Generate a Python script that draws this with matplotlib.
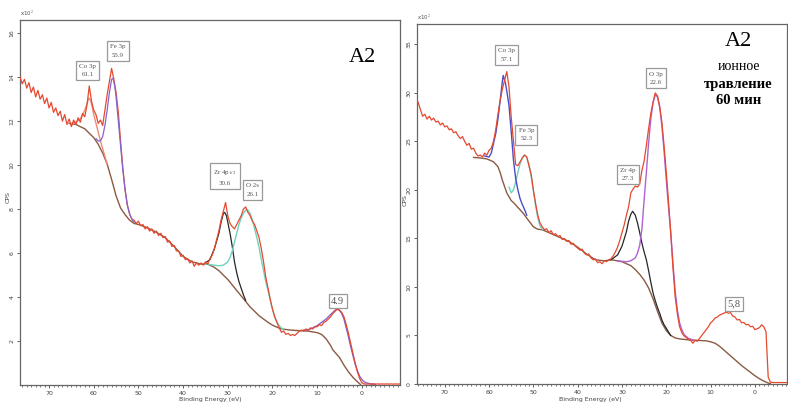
import matplotlib
matplotlib.use("Agg")
import matplotlib.pyplot as plt
import numpy as np
from matplotlib.ticker import MultipleLocator

plt.rcParams['mathtext.fontset'] = 'stix'

# ---------------------------------------------------------------------------
# Data (CPS in units of 10^2, binding energy in eV)
# ---------------------------------------------------------------------------

# left panel: raw spectrum, 0.5 eV steps from 76.5 eV down
left_raw_start = 76.5
left_raw = [
    14.0, 13.7, 13.9, 13.5, 13.75, 13.3, 13.55, 13.1, 13.4, 13.0,      # 76.5..72.0
    13.2, 12.8, 13.05, 12.6, 12.85, 12.4, 12.6, 12.25, 12.45, 12.0,    # 71.5..67.0
    12.3, 11.85, 12.1, 11.75, 12.05, 11.85, 12.15, 11.95, 12.35, 12.2, # 66.5..62.0
    12.75, 13.6, 12.9, 12.5, 12.3, 11.9, 12.05, 11.8, 12.5, 13.2,      # 61.5..57.0
    13.8, 14.4, 13.9, 13.3, 12.4, 11.1, 9.9, 8.9, 8.2, 7.8,            # 56.5..52.0
    7.55, 7.5, 7.35, 7.45, 7.25, 7.3, 7.1, 7.2, 7.0, 7.1,              # 51.5..47.0
    6.9, 7.0, 6.8, 6.9, 6.7, 6.75, 6.5, 6.55, 6.3, 6.35,               # 46.5..42.0
    6.1, 6.1, 5.85, 5.9, 5.7, 5.75, 5.55, 5.65, 5.4, 5.55,             # 41.5..37.0
    5.45, 5.55, 5.45, 5.6, 5.5, 5.75, 5.9, 6.2, 6.6, 7.0,              # 36.5..32.0
    7.5, 7.9, 8.3, 7.7, 7.35, 7.2, 7.1, 7.3, 7.5, 7.7,                 # 31.5..27.0
    8.0, 8.1, 7.85, 7.7, 7.45, 7.3, 7.0, 6.7, 6.2, 5.6,                # 26.5..22.0
    4.9, 4.4, 3.9, 3.45, 3.1, 2.85, 2.6, 2.4, 2.45, 2.3,               # 21.5..17.0
    2.35, 2.25, 2.3, 2.25, 2.35, 2.45, 2.5, 2.45, 2.55, 2.5,           # 16.5..12.0
    2.6, 2.55, 2.65, 2.65, 2.75, 2.7, 2.85, 2.9, 3.0, 3.1,             # 11.5..7.0
    3.25, 3.35, 3.45, 3.4, 3.3, 3.1, 2.75, 2.35, 1.9, 1.45,            # 6.5..2.0
    1.0, 0.6, 0.3, 0.1, 0.05, 0.04, 0.05, 0.04, 0.05, 0.04,            # 1.5..-3.0
    0.05, 0.04, 0.05, 0.04, 0.05, 0.04, 0.05, 0.04, 0.05, 0.04,        # -3.5..-8.0
    0.05,
]

left_bg_e = [65.5, 64, 63, 62, 61, 60, 59, 58, 57, 56, 55, 54, 53, 52, 51, 50,
             48, 46, 44, 42, 40, 38, 36, 34.5, 33, 32, 31, 30, 29, 28, 27, 26,
             25, 24, 23, 22, 21, 20, 19, 18, 16, 14, 12, 10, 9, 8, 7, 6.5, 5,
             4, 3, 2, 1, 0.3]
left_bg_y = [11.9, 11.85, 11.75, 11.65, 11.45, 11.25, 10.95, 10.55, 10.05, 9.35,
             8.6, 8.05, 7.75, 7.5, 7.35, 7.3, 7.15, 6.95, 6.7, 6.3, 5.85, 5.6,
             5.5, 5.5, 5.35, 5.2, 5.0, 4.8, 4.55, 4.3, 4.05, 3.8, 3.55, 3.35,
             3.15, 3.0, 2.85, 2.72, 2.63, 2.55, 2.5, 2.47, 2.45, 2.38, 2.3, 2.1,
             1.8, 1.6, 1.25, 0.9, 0.6, 0.35, 0.15, 0.02]

left_co_e = [65, 64, 63, 62.5, 62, 61.5, 61.1, 60.7, 60.3, 60, 59.5, 59, 58.5,
             58, 57.5, 57]
left_co_y = [11.9, 11.95, 12.1, 12.3, 12.5, 12.8, 13.05, 12.95, 12.6, 12.3,
             11.9, 11.5, 11.1, 10.75, 10.4, 10.05]

left_fe_e = [59.5, 59, 58.5, 58, 57.5, 57, 56.5, 56, 55.7, 55.3, 55, 54.5, 54,
             53.5, 53, 52.5, 52, 51.5, 51]
left_fe_y = [11.2, 11.1, 11.1, 11.3, 11.8, 12.5, 13.3, 13.9, 13.95, 13.6, 13.1,
             12.0, 10.9, 9.8, 8.9, 8.2, 7.8, 7.55, 7.4]

left_zr_e = [35, 34, 33, 32, 31.5, 31, 30.7, 30.3, 30, 29.5, 29, 28.5, 28, 27.5,
             27, 26.5, 26]
left_zr_y = [5.55, 5.7, 6.2, 6.9, 7.4, 7.8, 7.85, 7.7, 7.4, 6.9, 6.3, 5.6, 5.1,
             4.7, 4.4, 4.1, 3.85]

left_o_e = [35, 33, 32, 31, 30, 29.5, 29, 28.5, 28, 27.5, 27, 26.5, 26, 25.5,
            25, 24.5, 24, 23.5, 23, 22.5, 22, 21.5, 21, 20.5, 20, 19.5, 19,
            18.5, 18, 17.5]
left_o_y = [5.5, 5.45, 5.42, 5.45, 5.6, 5.8, 6.1, 6.5, 6.9, 7.3, 7.6, 7.8, 7.95,
            7.95, 7.8, 7.5, 7.1, 6.7, 6.25, 5.7, 5.2, 4.7, 4.3, 3.85, 3.45, 3.1,
            2.85, 2.7, 2.6, 2.5]

left_vb_e = [13, 12, 11, 10, 9, 8, 7, 6, 5.5, 5, 4.5, 4, 3.5, 3, 2.5, 2, 1.5, 1,
             0.5, 0, -0.5, -1, -2, -3]
left_vb_y = [2.5, 2.5, 2.6, 2.7, 2.85, 3.0, 3.2, 3.4, 3.45, 3.4, 3.25, 3.0, 2.6,
             2.2, 1.75, 1.35, 0.95, 0.65, 0.4, 0.25, 0.15, 0.1, 0.05, 0.03]

# right panel: raw spectrum, 0.5 eV steps from 76.5 eV down
right_raw_start = 76.5
right_raw = [
    29.6, 29.0, 28.3, 27.6, 27.8, 27.3, 27.6, 27.2, 27.4, 27.0,   # 76.5..72.0
    27.1, 26.7, 26.9, 26.5, 26.6, 26.2, 26.3, 25.9, 26.0, 25.6,   # 71.5..67.0
    25.3, 25.5, 25.0, 24.6, 24.8, 24.2, 24.3, 23.8, 23.5, 23.6,   # 66.5..62.0
    23.4, 23.8, 23.6, 24.1, 24.3, 25.0, 26.2, 27.8, 29.2, 30.4,   # 61.5..57.0
    31.3, 32.2, 30.6, 27.5, 25.0, 22.6, 22.5, 22.9, 23.3, 23.6,   # 56.5..52.0
    23.4, 22.5, 21.6, 20.0, 18.6, 17.4, 16.6, 16.2, 15.9, 16.0,   # 51.5..47.0
    15.6, 15.8, 15.4, 15.5, 15.2, 15.3, 14.9, 15.0, 14.7, 14.8,   # 46.5..42.0
    14.4, 14.5, 14.2, 14.0, 13.8, 13.9, 13.5, 13.3, 13.4, 13.0,   # 41.5..37.0
    12.8, 12.9, 12.5, 12.6, 12.4, 12.7, 12.6, 12.8, 12.9, 13.2,   # 36.5..32.0
    13.6, 14.1, 14.8, 15.6, 16.4, 17.4, 18.3, 19.7, 20.1, 20.4,   # 31.5..27.0
    20.3, 20.6, 22.0, 23.0, 24.6, 26.3, 27.9, 29.0, 30.0, 29.7,   # 26.5..22.0
    28.6, 27.0, 24.5, 21.8, 18.8, 15.6, 12.0, 9.0, 7.2, 5.9,      # 21.5..17.0
    5.3, 4.95, 4.8, 4.6, 4.5, 4.2, 4.5, 4.4, 4.7, 5.0,            # 16.5..12.0
    5.3, 5.6, 5.9, 6.3, 6.5, 6.8, 6.9, 7.1, 7.2, 7.3,             # 11.5..7.0
    7.4, 7.3, 7.35, 7.0, 6.9, 6.6, 6.65, 6.3, 6.35, 6.1,          # 6.5..2.0
    6.15, 5.9, 5.95, 5.6, 5.7, 5.8, 6.1, 5.9, 5.4, 0.7,           # 1.5..-3.0
    0.2, 0.15, 0.15, 0.15, 0.15, 0.15, 0.15, 0.15, 0.15, 0.15,    # -3.5..-8.0
]

right_bg_e = [63.5, 62, 60.5, 59.5, 59, 58, 57.5, 57, 56, 55, 54.5, 53.5, 52.3,
              51.5, 50.5, 50, 49, 48, 46, 44, 42, 40, 38, 36, 34, 32.3, 30, 28,
              27, 26, 25, 24, 23, 22, 21, 20, 19, 18, 17, 15, 13, 11, 10, 9, 8,
              7, 6, 5, 4, 3, 2, 1, 0, -1, -2, -3, -3.5]
right_bg_y = [23.35, 23.3, 23.2, 23.0, 22.9, 22.4, 21.8, 21.0, 19.7, 18.9, 18.7,
              18.2, 17.6, 17.1, 16.5, 16.2, 15.95, 15.9, 15.5, 15.1, 14.7, 14.1,
              13.4, 12.8, 12.7, 12.8, 12.6, 12.2, 11.8, 11.3, 10.7, 9.9, 8.8,
              7.5, 6.3, 5.5, 5.0, 4.75, 4.65, 4.55, 4.5, 4.45, 4.35, 4.2, 3.9,
              3.5, 3.1, 2.7, 2.3, 1.9, 1.55, 1.2, 0.85, 0.55, 0.3, 0.1, 0.05]

right_co_e = [61, 60, 59.5, 59, 58.5, 58, 57.5, 57, 56.8, 56.3, 56, 55.5, 55,
              54.5, 54, 53.5, 53, 52.5, 52, 51.5]
right_co_y = [23.5, 23.4, 23.8, 24.8, 25.8, 27.3, 29.2, 31.2, 31.8, 31.0, 30.2,
              28.7, 26.0, 23.1, 21.2, 20.0, 19.1, 18.5, 18.0, 17.4]

right_fe_e = [55.5, 55, 54.5, 54, 53.5, 53, 52.5, 52, 51.5, 51, 50.5, 50, 49.5,
              49, 48.5, 48]
right_fe_y = [20.3, 19.7, 20.0, 20.8, 21.8, 22.7, 23.3, 23.6, 23.4, 22.6, 21.4,
              19.9, 18.4, 17.1, 16.3, 15.95]

right_zr_e = [32.5, 31, 30, 29, 28.5, 28, 27.6, 27, 26.5, 26, 25.5, 25, 24.5,
              24, 23.5, 23, 22.5, 22, 21.5, 21, 20.5, 20, 19.5, 19]
right_zr_y = [12.8, 13.3, 14.2, 15.7, 16.8, 17.5, 17.8, 17.4, 16.6, 15.6, 14.5,
              13.6, 12.8, 11.7, 10.5, 9.4, 8.6, 7.9, 7.3, 6.6, 6.1, 5.75, 5.35,
              5.0]

right_o_e = [31, 29, 28, 27, 26.5, 26, 25.5, 25, 24.5, 24, 23.5, 23, 22.5, 22,
             21.5, 21, 20.5, 20, 19.5, 19, 18.5, 18, 17.5, 17, 16.5, 16, 15, 14]
right_o_y = [12.7, 12.6, 12.7, 13.0, 13.5, 14.3, 16.0, 19.0, 21.8, 24.8, 27.3,
             29.0, 29.8, 29.6, 28.6, 26.6, 24.0, 21.0, 18.2, 15.6, 12.5, 9.6,
             7.6, 6.3, 5.6, 5.1, 4.7, 4.55]

# ---------------------------------------------------------------------------
# Styles
# ---------------------------------------------------------------------------

RAW = '#e5492f'
BG = '#8a5a43'
SALMON = '#f08a78'
PURPLE = '#8662cf'
BLUE = '#4a4ccc'
VIOLET = '#b062d0'
TEAL = '#6fd2bd'
BLACK = '#262626'
SERIF = 'Liberation Serif'


def style_axes(ax, xlim, ylim, ystep):
    ax.set_xlim(*xlim)
    ax.set_ylim(*ylim)
    ax.xaxis.set_major_locator(MultipleLocator(10))
    ax.xaxis.set_minor_locator(MultipleLocator(1))
    ax.yaxis.set_major_locator(MultipleLocator(ystep))
    ax.tick_params(which='major', direction='out', length=2.5, width=0.6,
                   labelsize=4.5, colors='#444', pad=1.5)
    ax.tick_params(which='minor', direction='out', length=1.5, width=0.5,
                   colors='#444')
    ax.tick_params(axis='y', which='minor', left=False)
    for lab in ax.get_yticklabels():
        lab.set_rotation(90)
        lab.set_va('center')
    for sp in ax.spines.values():
        sp.set_color('#666')
        sp.set_linewidth(0.9)
    ax.text(0.0, 1.005, r'x10$^2$', transform=ax.transAxes, fontsize=4,
            color='#555', ha='left', va='bottom')


def box_label(ax, x, y, text, fs=5.0):
    ax.text(x, y, text, ha='center', va='center', fontsize=fs,
            family=SERIF, color='#555', linespacing=1.9,
            bbox=dict(boxstyle='square,pad=0.45', fc='white', ec='#999',
                      lw=0.9))


fig = plt.figure(figsize=(7.88, 4.04), dpi=100)

# ---------------------------------------------------------------------------
# Left panel
# ---------------------------------------------------------------------------
axl = fig.add_axes([0.0254, 0.047, 0.482, 0.9035])
xl = left_raw_start - 0.5 * np.arange(len(left_raw))
axl.plot(left_bg_e, left_bg_y, color=BG, lw=1.0, zorder=2)
axl.plot(left_co_e, left_co_y, color=SALMON, lw=1.0, zorder=2)
axl.plot(left_zr_e, left_zr_y, color=BLACK, lw=0.9, zorder=2)
axl.plot(left_o_e, left_o_y, color=TEAL, lw=1.0, zorder=2)
axl.plot(left_vb_e, left_vb_y, color=PURPLE, lw=1.0, zorder=2)
axl.plot(xl, left_raw, color=RAW, lw=0.9, zorder=3)
axl.plot(left_fe_e, left_fe_y, color=PURPLE, lw=0.9, zorder=4)
style_axes(axl, (76.5, -8.5), (0, 16.6), 2)
axl.set_yticks([2, 4, 6, 8, 10, 12, 14, 16])

box_label(axl, 61.3, 14.3, 'Co 3p\n61.1')
box_label(axl, 54.6, 15.2, 'Fe 3p\n55.9')
box_label(axl, 30.6, 9.45, 'Zr 4p$_{1/2}$\n30.6')
box_label(axl, 24.4, 8.86, 'O 2s\n26.1')
axl.text(5.4, 3.82, '4.9', ha='center', va='center', fontsize=7.5,
         family=SERIF, color='#555',
         bbox=dict(boxstyle='square,pad=0.25', fc='white', ec='#999', lw=0.9,
                   ), zorder=5)
axl.text(-0.2, 14.9, 'A2', ha='center', va='center', fontsize=16,
         family=SERIF, color='black')

# ---------------------------------------------------------------------------
# Right panel
# ---------------------------------------------------------------------------
axr = fig.add_axes([0.529, 0.0495, 0.4695, 0.891])
xr = right_raw_start - 0.5 * np.arange(len(right_raw))
axr.plot(right_bg_e, right_bg_y, color=BG, lw=1.0, zorder=2)
axr.plot(right_fe_e, right_fe_y, color=TEAL, lw=1.0, zorder=2)
axr.plot(right_zr_e, right_zr_y, color=BLACK, lw=0.9, zorder=2)
axr.plot(right_o_e, right_o_y, color=VIOLET, lw=1.0, zorder=2)
axr.plot(right_co_e, right_co_y, color=BLUE, lw=1.0, zorder=2)
axr.plot(xr, right_raw, color=RAW, lw=0.9, zorder=3)
style_axes(axr, (76.3, -7.2), (0, 37.1), 5)

box_label(axr, 56.1, 33.9, 'Co 3p\n57.1')
box_label(axr, 51.6, 25.7, 'Fe 3p\n52.3')
box_label(axr, 28.7, 21.6, 'Zr 4p\n27.3')
box_label(axr, 22.4, 31.5, 'O 3p\n22.6')
axr.text(4.8, 8.25, '5,8', ha='center', va='center', fontsize=7.5,
         family=SERIF, color='#555',
         bbox=dict(boxstyle='square,pad=0.25', fc='white', ec='#999', lw=0.9),
         zorder=5)
axr.text(3.7, 35.3, 'A2', ha='center', va='center', fontsize=16,
         family=SERIF, color='black')
axr.text(3.7, 32.7, 'ионное', ha='center', va='center', fontsize=10,
         family=SERIF, color='black')
axr.text(3.7, 30.9, 'травление', ha='center', va='center', fontsize=10.5,
         family=SERIF, weight='bold', color='black')
axr.text(3.7, 29.2, '60 мин', ha='center', va='center', fontsize=10.5,
         family=SERIF, weight='bold', color='black')

# axis titles
for xc, yc in [(8 / 788, 1 - 197 / 404), (405 / 788, 1 - 200 / 404)]:
    fig.text(xc, yc, 'CPS', rotation=90, fontsize=4.5, color='#444',
             ha='center', va='center')
for xc in [210 / 788, 590 / 788]:
    fig.text(xc, 1 - 400 / 404, 'Binding Energy (eV)', fontsize=4.5,
             color='#444', ha='center', va='center')

fig.savefig('out.png', dpi=100)
